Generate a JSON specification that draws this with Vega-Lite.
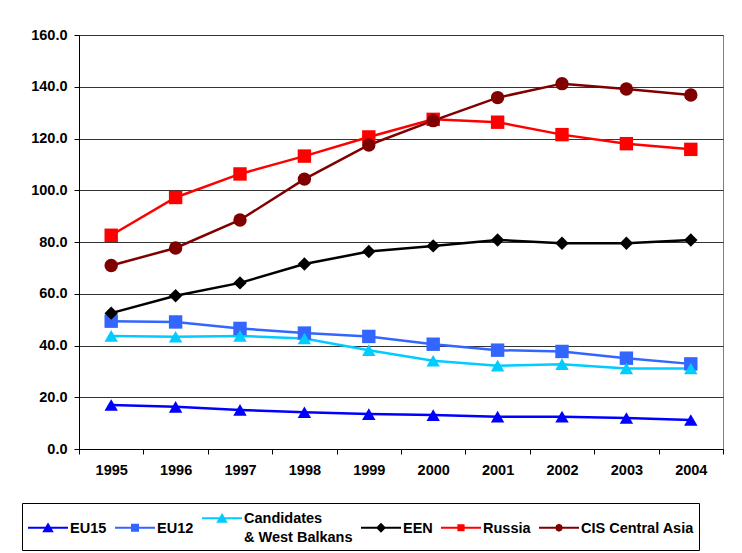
{
  "$schema": "https://vega.github.io/schema/vega-lite/v6.json",
  "width": 644,
  "height": 414,
  "autosize": {"type": "none"},
  "padding": {"left": 79, "top": 35, "right": 19, "bottom": 104},
  "background": "white",
  "config": {"view": {"stroke": "#808080", "strokeWidth": 1}, "font": "Liberation Sans"},
  "data": {"values": [
    {"year": "1995", "series": "EU15", "value": 17.0},
    {"year": "1996", "series": "EU15", "value": 16.3},
    {"year": "1997", "series": "EU15", "value": 15.1},
    {"year": "1998", "series": "EU15", "value": 14.2},
    {"year": "1999", "series": "EU15", "value": 13.5},
    {"year": "2000", "series": "EU15", "value": 13.1},
    {"year": "2001", "series": "EU15", "value": 12.5},
    {"year": "2002", "series": "EU15", "value": 12.5},
    {"year": "2003", "series": "EU15", "value": 12.0},
    {"year": "2004", "series": "EU15", "value": 11.2},
    {"year": "1995", "series": "EU12", "value": 49.4},
    {"year": "1996", "series": "EU12", "value": 49.1},
    {"year": "1997", "series": "EU12", "value": 46.6},
    {"year": "1998", "series": "EU12", "value": 44.8},
    {"year": "1999", "series": "EU12", "value": 43.5},
    {"year": "2000", "series": "EU12", "value": 40.5},
    {"year": "2001", "series": "EU12", "value": 38.2},
    {"year": "2002", "series": "EU12", "value": 37.7},
    {"year": "2003", "series": "EU12", "value": 35.1},
    {"year": "2004", "series": "EU12", "value": 32.9},
    {"year": "1995", "series": "Candidates & West Balkans", "value": 43.7},
    {"year": "1996", "series": "Candidates & West Balkans", "value": 43.4},
    {"year": "1997", "series": "Candidates & West Balkans", "value": 43.7},
    {"year": "1998", "series": "Candidates & West Balkans", "value": 42.7},
    {"year": "1999", "series": "Candidates & West Balkans", "value": 38.2},
    {"year": "2000", "series": "Candidates & West Balkans", "value": 34.1},
    {"year": "2001", "series": "Candidates & West Balkans", "value": 32.2},
    {"year": "2002", "series": "Candidates & West Balkans", "value": 32.8},
    {"year": "2003", "series": "Candidates & West Balkans", "value": 31.1},
    {"year": "2004", "series": "Candidates & West Balkans", "value": 31.1},
    {"year": "1995", "series": "EEN", "value": 52.5},
    {"year": "1996", "series": "EEN", "value": 59.2},
    {"year": "1997", "series": "EEN", "value": 64.2},
    {"year": "1998", "series": "EEN", "value": 71.5},
    {"year": "1999", "series": "EEN", "value": 76.3},
    {"year": "2000", "series": "EEN", "value": 78.5},
    {"year": "2001", "series": "EEN", "value": 80.8},
    {"year": "2002", "series": "EEN", "value": 79.5},
    {"year": "2003", "series": "EEN", "value": 79.5},
    {"year": "2004", "series": "EEN", "value": 80.8},
    {"year": "1995", "series": "Russia", "value": 82.6},
    {"year": "1996", "series": "Russia", "value": 97.2},
    {"year": "1997", "series": "Russia", "value": 106.3},
    {"year": "1998", "series": "Russia", "value": 113.2},
    {"year": "1999", "series": "Russia", "value": 120.6},
    {"year": "2000", "series": "Russia", "value": 127.4},
    {"year": "2001", "series": "Russia", "value": 126.3},
    {"year": "2002", "series": "Russia", "value": 121.5},
    {"year": "2003", "series": "Russia", "value": 118.0},
    {"year": "2004", "series": "Russia", "value": 115.8},
    {"year": "1995", "series": "CIS Central Asia", "value": 70.9},
    {"year": "1996", "series": "CIS Central Asia", "value": 77.7},
    {"year": "1997", "series": "CIS Central Asia", "value": 88.5},
    {"year": "1998", "series": "CIS Central Asia", "value": 104.3},
    {"year": "1999", "series": "CIS Central Asia", "value": 117.5},
    {"year": "2000", "series": "CIS Central Asia", "value": 126.9},
    {"year": "2001", "series": "CIS Central Asia", "value": 135.8},
    {"year": "2002", "series": "CIS Central Asia", "value": 141.2},
    {"year": "2003", "series": "CIS Central Asia", "value": 139.1},
    {"year": "2004", "series": "CIS Central Asia", "value": 136.8}
  ]},
  "encoding": {
    "x": {
      "field": "year", "type": "ordinal",
      "scale": {"type": "band", "paddingInner": 0, "paddingOuter": 0},
      "axis": {"title": null, "labelAngle": 0, "tickBand": "extent", "tickSize": 5, "tickColor": "#000", "domainColor": "#000", "labelPadding": 9, "labelFont": "Liberation Sans", "labelFontWeight": "bold", "labelFontSize": 14.5, "labelColor": "#000", "grid": false}
    },
    "y": {
      "field": "value", "type": "quantitative",
      "scale": {"domain": [0, 160], "nice": false},
      "axis": {"title": null, "values": [0, 20, 40, 60, 80, 100, 120, 140, 160], "format": ".1f", "tickSize": 5, "tickColor": "#000", "domainColor": "#000", "labelPadding": 7, "labelFont": "Liberation Sans", "labelFontWeight": "bold", "labelFontSize": 14.5, "labelColor": "#000", "grid": true, "gridColor": "#333333", "gridWidth": 1}
    },
    "color": {
      "field": "series", "type": "nominal",
      "scale": {
        "domain": ["EU15", "EU12", "Candidates & West Balkans", "EEN", "Russia", "CIS Central Asia"],
        "range": ["#0000FF", "#3366FF", "#00CCFF", "#000000", "#FF0000", "#800000"]
      },
      "legend": {
        "title": null,
        "orient": "none",
        "legendX": -57,
        "legendY": 468,
        "direction": "horizontal",
        "columns": 6,
        "columnPadding": 4,
        "padding": 5,
        "strokeColor": "#000000",
        "fillColor": "#FFFFFF",
        "symbolSize": 1600,
        "symbolStrokeWidth": 2,
        "symbolOpacity": 1,
        "labelFont": "Liberation Sans",
        "labelFontWeight": "bold",
        "labelFontSize": 14.5,
        "labelColor": "#000000",
        "labelOffset": 1,
        "labelLimit": 300,
        "labelBaseline": "top",
        "labelExpr": "datum.label == 'Candidates & West Balkans' ? ['Candidates', '& West Balkans'] : datum.label",
        "encode": {
          "symbols": {
            "update": {
              "shape": {"signal": "(datum.value == 'EU15' || datum.value == 'Candidates & West Balkans') ? 'M-1,-0.55H1M0,-0.72L0.2,-0.38L-0.2,-0.38Z' : datum.value == 'EU12' ? 'M-1,-0.55H1M-0.15,-0.7H0.15V-0.4H-0.15Z' : datum.value == 'EEN' ? 'M-1,-0.55H1M-0.18,-0.55L0,-0.73L0.18,-0.55L0,-0.37Z' : datum.value == 'Russia' ? 'M-1,-0.55H1M-0.13,-0.68H0.13V-0.42H-0.13Z' : 'M-1,-0.55H1M0.14,-0.55L0.099,-0.451L0,-0.41L-0.099,-0.451L-0.14,-0.55L-0.099,-0.649L0,-0.69L0.099,-0.649Z'"},
              "fill": {"signal": "scale('color', datum.value)"},
              "stroke": {"signal": "scale('color', datum.value)"},
              "strokeWidth": {"value": 2},
              "size": {"value": 1600},
              "opacity": {"value": 1}
            }
          },
          "labels": {
            "update": {
              "dy": {"value": -17},
              "lineHeight": {"value": 19}
            }
          }
        }
      }
    }
  },
  "layer": [
    {"mark": {"type": "line", "strokeWidth": 2.5}},
    {
      "mark": {"type": "point", "filled": true, "opacity": 1, "size": 180},
      "encoding": {
        "shape": {
          "field": "series", "type": "nominal",
          "scale": {
            "domain": ["CIS Central Asia", "Russia", "EEN", "Candidates & West Balkans", "EU12", "EU15"],
            "range": ["circle", "square", "diamond", "triangle-up", "square", "triangle-up"]
          },
          "legend": null
        }
      }
    }
  ]
}
